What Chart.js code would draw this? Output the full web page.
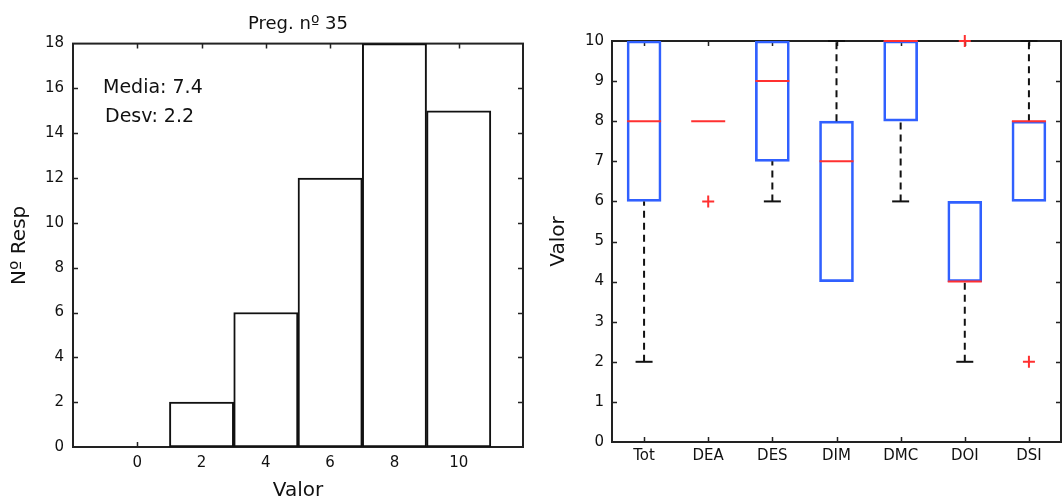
<!DOCTYPE html>
<html>
<head>
<meta charset="utf-8">
<script src="https://cdn.jsdelivr.net/npm/chart.js@4.4.0/dist/chart.umd.min.js"></script>
<style>
html, body { margin: 0; padding: 0; background: #fff; overflow: hidden; width: 1064px; height: 504px; }
#histWrap { position: absolute; left: 0; top: 0; width: 540px; height: 504px; }
#boxWrap { position: absolute; left: 540px; top: 0; width: 540px; height: 504px; }
</style>
</head>
<body>
<div id="histWrap"><canvas id="histChart"></canvas></div>
<div id="boxWrap"><canvas id="boxChart"></canvas></div>
<script>
// histogram (left)
const histValues = [0, 2, 4, 6, 8, 10];
const histCounts = [0, 2, 6, 12, 18, 15];
const histMedia = 7.4;
const histDesv = 2.2;

// boxplot (right)
const boxCats = ['Tot', 'DEA', 'DES', 'DIM', 'DMC', 'DOI', 'DSI'];
const boxLow = [2, 8, 6, 4, 6, 2, 6];
const boxQ1 = [6, 8, 7, 4, 8, 4, 6];
const boxMed = [8, 8, 9, 7, 10, 4, 8];
const boxQ3 = [10, 8, 10, 8, 10, 6, 8];
const boxHigh = [10, 8, 10, 10, 10, 6, 10];
const boxOutliers = [[], [6], [], [], [], [10], [2]];

Chart.defaults.font.family = "'DejaVu Sans', sans-serif";
Chart.defaults.color = '#111';
Chart.defaults.animation = false;

// matlab style frame with inward ticks on all four sides
const framePlugin = {
  id: 'frame',
  beforeDatasetsDraw(chart) {
    const { ctx, chartArea: a, scales: { x, y } } = chart;
    const tl = 5;
    ctx.save();
    ctx.strokeStyle = '#222';
    ctx.lineWidth = 2;
    ctx.strokeRect(a.left, a.top, a.right - a.left, a.bottom - a.top);
    ctx.lineWidth = 1.5;
    ctx.beginPath();
    x.ticks.forEach(t => {
      if (t.value <= x.min || t.value >= x.max) return;
      const px = Math.round(x.getPixelForValue(t.value)) + 0.5;
      ctx.moveTo(px, a.bottom); ctx.lineTo(px, a.bottom - tl);
      ctx.moveTo(px, a.top); ctx.lineTo(px, a.top + tl);
    });
    y.ticks.forEach(t => {
      if (t.value <= y.min || t.value >= y.max) return;
      const py = Math.round(y.getPixelForValue(t.value)) + 0.5;
      ctx.moveTo(a.left, py); ctx.lineTo(a.left + tl, py);
      ctx.moveTo(a.right, py); ctx.lineTo(a.right - tl, py);
    });
    ctx.stroke();
    ctx.restore();
  }
};

const statsPlugin = {
  id: 'stats',
  afterDraw(chart) {
    const { ctx, chartArea: a } = chart;
    ctx.save();
    ctx.font = "19px 'DejaVu Sans', sans-serif";
    ctx.fillStyle = '#111';
    ctx.textBaseline = 'middle';
    ctx.fillText('Media: ' + histMedia, a.left + 30, a.top + 44);
    ctx.fillText('Desv: ' + histDesv, a.left + 32, a.top + 73);
    ctx.restore();
  }
};

new Chart(document.getElementById('histChart'), {
  type: 'bar',
  data: {
    datasets: [{
      data: histValues.map((v, i) => ({ x: v, y: histCounts[i] })),
      backgroundColor: '#fff',
      borderColor: '#111',
      borderWidth: 2,
      borderSkipped: false,
      barPercentage: 1,
      categoryPercentage: 1
    }]
  },
  options: {
    responsive: true,
    maintainAspectRatio: false,
    layout: { padding: { left: 0, right: 17, top: 0, bottom: 0 } },
    plugins: {
      legend: { display: false },
      tooltip: { enabled: false },
      title: {
        display: true,
        text: 'Preg. nº 35',
        fullSize: false,
        color: '#111',
        font: { size: 18, weight: 'normal' },
        padding: { top: 14, bottom: 8 }
      }
    },
    scales: {
      x: {
        type: 'linear',
        offset: false,
        min: -2,
        max: 12,
        afterBuildTicks: s => { s.ticks = histValues.map(v => ({ value: v })); },
        afterFit: s => { s.height = 57; },
        grid: { display: false, drawTicks: false, offset: false },
        border: { display: false },
        ticks: { padding: 7, font: { size: 15 }, maxRotation: 0 },
        title: { display: true, text: 'Valor', font: { size: 20 }, padding: { top: 0, bottom: 1 } }
      },
      y: {
        min: 0,
        max: 18,
        afterFit: s => { s.width = 73; },
        grid: { display: false, drawTicks: false },
        border: { display: false },
        ticks: { stepSize: 2, padding: 9, font: { size: 15 } },
        title: { display: true, text: 'Nº Resp', font: { size: 20 }, padding: { top: 8, bottom: 0 } }
      }
    }
  },
  plugins: [framePlugin, statsPlugin]
});

// boxplot pieces
const whiskerSets = [];
const capPoints = [];
boxCats.forEach((c, i) => {
  const x = i + 1;
  if (boxLow[i] < boxQ1[i]) {
    whiskerSets.push([{ x, y: boxLow[i] }, { x, y: boxQ1[i] }]);
    capPoints.push({ x, y: boxLow[i] });
  }
  if (boxHigh[i] > boxQ3[i]) {
    whiskerSets.push([{ x, y: boxQ3[i] }, { x, y: boxHigh[i] }]);
    capPoints.push({ x, y: boxHigh[i] });
  }
});
const outlierPoints = [];
boxOutliers.forEach((list, i) => list.forEach(v => outlierPoints.push({ x: i + 1, y: v })));

const boxDatasets = [
  {
    type: 'line', data: boxMed.map((m, i) => ({ x: i + 1, y: m })),
    showLine: false, pointStyle: 'line', pointRadius: 17,
    pointBorderColor: '#ff3030', pointBorderWidth: 2, clip: false
  },
  {
    type: 'line', data: outlierPoints,
    showLine: false, pointStyle: 'cross', pointRadius: 6,
    pointBorderColor: '#ff3030', pointBorderWidth: 2, clip: false
  },
  {
    type: 'line', data: capPoints,
    showLine: false, pointStyle: 'line', pointRadius: 8.5,
    pointBorderColor: '#111', pointBorderWidth: 2, clip: false
  },
  ...whiskerSets.map(seg => ({
    type: 'line', data: seg,
    borderColor: '#111', borderWidth: 2, borderDash: [7, 5],
    pointRadius: 0, clip: false
  })),
  {
    type: 'bar',
    data: boxCats.map((c, i) => ({ x: i + 1, y: [boxQ1[i], boxQ3[i]] })),
    backgroundColor: 'rgba(0,0,0,0)',
    borderColor: '#3060ff',
    borderWidth: 2,
    borderSkipped: false,
    barThickness: 34
  }
];

new Chart(document.getElementById('boxChart'), {
  type: 'bar',
  data: { datasets: boxDatasets },
  options: {
    responsive: true,
    maintainAspectRatio: false,
    layout: { padding: { left: 0, right: 12, top: 41, bottom: 0 } },
    plugins: { legend: { display: false }, tooltip: { enabled: false } },
    scales: {
      x: {
        type: 'linear',
        offset: false,
        min: 0.5,
        max: boxCats.length + 0.5,
        afterBuildTicks: s => { s.ticks = boxCats.map((c, i) => ({ value: i + 1 })); },
        afterFit: s => { s.height = 62; },
        grid: { display: false, drawTicks: false, offset: false },
        border: { display: false },
        ticks: { padding: 5, font: { size: 15 }, maxRotation: 0, callback: v => boxCats[v - 1] }
      },
      y: {
        min: 0,
        max: 10,
        afterFit: s => { s.width = 72; },
        grid: { display: false, drawTicks: false },
        border: { display: false },
        ticks: { stepSize: 1, padding: 8, font: { size: 15 } },
        title: { display: true, text: 'Valor', font: { size: 20 }, padding: { top: 7, bottom: 0 } }
      }
    }
  },
  plugins: [framePlugin]
});
</script>
</body>
</html>
